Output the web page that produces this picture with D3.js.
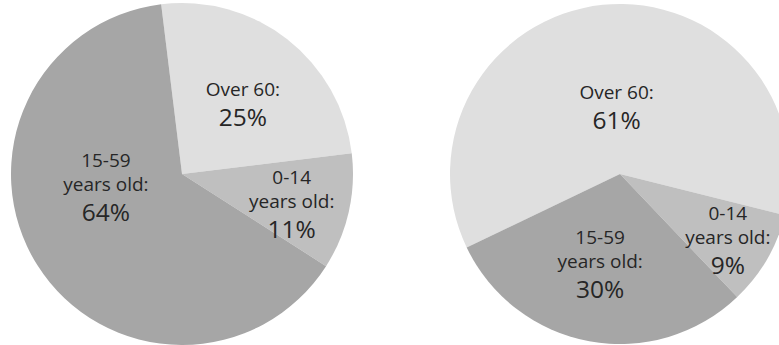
<!DOCTYPE html>
<html>
<head>
<meta charset="utf-8">
<script src="https://cdn.jsdelivr.net/npm/d3@7"></script>
<style>
  html, body { margin: 0; padding: 0; background: #ffffff; }
  svg { display: block; }
  text { font-family: "Open Sans", "Noto Sans", sans-serif; fill: #262626; }
</style>
</head>
<body>
<svg id="chart" width="779" height="345"></svg>
<script>
// ---- data ----
const categories = ["Over 60", "0-14", "15-59"];
const labelLines = [["Over 60:"], ["0-14", "years old:"], ["15-59", "years old:"]];
const valuesLeft = [25, 11, 64];
const valuesRight = [61, 9, 30];

// ---- layout / style ----
const colors = d3.scaleOrdinal().domain(categories).range(["#dfdfdf", "#bfbfbf", "#a6a6a6"]);

const pies = [
  { values: valuesLeft, cx: 182, cy: 174, r: 171, start: -7,
    nudge: [[3, -4], [18, -11], [3.5, -57]] },
  { values: valuesRight, cx: 620, cy: 174, r: 170, start: -115.6,
    nudge: [[6, 18], [27, -1], [-3, -22]] }
];

const svg = d3.select("#chart");
const rad = d => d * Math.PI / 180;

pies.forEach(p => {
  const data = categories.map((c, i) => ({ cat: c, value: p.values[i], i }));
  const pie = d3.pie().value(d => d.value).sort(null)
    .startAngle(rad(p.start)).endAngle(rad(p.start + 360));
  const arcs = pie(data);
  const arc = d3.arc().innerRadius(0).outerRadius(p.r);
  const labelArc = d3.arc().innerRadius(p.r * 0.55).outerRadius(p.r * 0.55);

  const g = svg.append("g").attr("transform", `translate(${p.cx},${p.cy})`);
  g.selectAll("path.slice").data(arcs).join("path")
    .attr("class", "slice")
    .attr("d", arc)
    .attr("fill", d => colors(d.data.cat));

  const lg = g.selectAll("g.lbl").data(arcs).join("g")
    .attr("class", "lbl")
    .attr("transform", d => {
      const [x, y] = labelArc.centroid(d);
      const n = p.nudge[d.data.i];
      return `translate(${x + n[0]},${y + n[1]})`;
    });
  lg.each(function(d) {
    const lines = labelLines[d.data.i];
    const t = d3.select(this).append("text").attr("text-anchor", "middle");
    lines.forEach((ln, k) => {
      t.append("tspan").attr("x", 0).attr("y", k * 24)
        .attr("font-size", 19).text(ln);
    });
    t.append("tspan").attr("x", 0).attr("y", (lines.length - 1) * 24 + 30)
      .attr("font-size", 24.5).text(d.data.value + "%");
  });
});
</script>
</body>
</html>
